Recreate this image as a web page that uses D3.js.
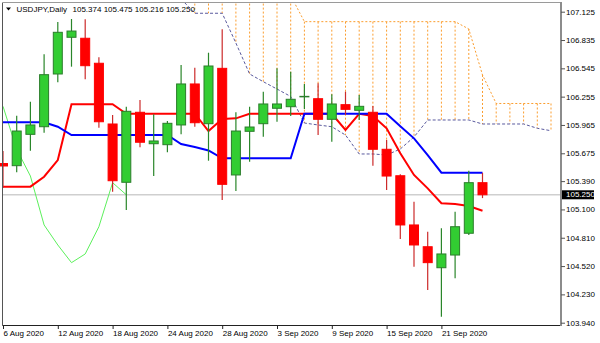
<!DOCTYPE html>
<html>
<head>
<meta charset="utf-8">
<script src="https://d3js.org/d3.v7.min.js"></script>
<style>
body { margin: 0; background: #fff; }
svg { display: block; font-family: "Liberation Sans", Arial, sans-serif; }
</style>
</head>
<body>
<svg id="drawing_region"></svg>
<script>
// USDJPY daily candles, 6 Aug 2020 .. 24 Sep 2020 (bar index 0..35)
const symbol = 'USDJPY,Daily';
const opens  = [105.570,105.548,105.869,105.947,106.487,106.863,106.853,106.597,105.975,105.378,
                106.095,105.773,105.763,105.965,106.385,105.978,106.545,105.453,105.900,105.978,
                106.136,106.152,106.253,106.234,106.023,106.173,106.115,106.095,105.716,105.445,
                104.941,104.718,104.503,104.633,104.856,105.374];
const highs  = [105.698,106.060,106.203,106.689,107.020,107.050,107.047,106.658,106.067,106.152,
                106.221,106.074,106.006,106.579,106.552,106.705,106.945,106.095,106.152,106.306,
                106.545,106.511,106.385,106.392,106.279,106.306,106.272,106.159,105.811,105.460,
                105.179,104.872,104.907,105.077,105.497,105.475];
const lows   = [105.320,105.480,105.701,105.886,106.402,106.562,106.433,105.937,105.282,105.094,
                105.736,105.442,105.685,105.869,105.947,105.599,105.197,105.289,105.589,105.845,
                105.998,106.057,106.129,105.862,105.794,106.067,106.016,105.548,105.299,104.797,
                104.514,104.275,104.001,104.395,104.838,105.216];
const closes = [105.545,105.903,105.965,106.480,106.914,106.927,106.572,105.998,105.394,106.105,
                105.788,105.801,105.982,106.385,105.988,106.569,105.357,105.903,105.944,106.180,
                106.180,106.228,106.258,106.023,106.180,106.125,106.156,105.716,105.442,104.941,
                104.736,104.555,104.644,104.923,105.374,105.250];

// Ichimoku lines
const tenkan = [105.333,105.333,105.333,105.435,105.606,106.177,106.177,106.177,106.177,106.080,
                106.080,106.080,106.080,106.080,106.080,105.903,106.026,106.033,106.080,106.080,
                106.080,106.080,106.080,106.080,106.080,105.914,106.080,106.057,105.931,105.675,
                105.453,105.316,105.163,105.156,105.135,105.087];
const kijun  = [105.992,105.992,105.992,105.992,105.947,105.862,105.862,105.862,105.862,105.862,
                105.862,105.862,105.862,105.770,105.739,105.704,105.624,105.624,105.624,105.624,
                105.624,105.624,106.080,106.080,106.080,106.080,106.080,106.080,106.080,105.951,
                105.828,105.657,105.476,105.476,105.476,105.476];
const chikou = [106.156,105.716,105.442,104.941,104.736,104.555,104.644,104.923,105.374,105.250];

// cloud, from bar 13 to bar 40 (shifted forward)
const spanStart = 13;
const spanUpper = [107.290,107.290,107.290,107.290,107.290,107.290,107.290,107.290,107.290,
                   107.023,107.023,107.023,107.023,107.023,107.023,107.023,107.023,107.023,107.023,107.023,107.023,
                   106.948,106.477,106.185,106.185,106.185,106.185,106.185];
const spanLower = [107.255,107.109,107.109,107.109,106.804,106.487,106.408,106.333,106.257,
                   105.985,105.965,105.947,105.862,105.668,105.668,105.657,105.719,105.842,106.016,106.016,106.016,
                   106.016,105.975,105.975,105.975,105.975,105.931,105.906];

const bidPrice = 105.250;
const yTicks = [107.125,106.835,106.545,106.255,105.965,105.675,105.390,105.100,104.810,104.520,104.230,103.940];
const xTickIdx = [0,4,8,12,16,20,24,28,32];
const xTickLabels = ['6 Aug 2020','12 Aug 2020','18 Aug 2020','24 Aug 2020','28 Aug 2020',
                     '3 Sep 2020','9 Sep 2020','15 Sep 2020','21 Sep 2020'];

class IchimokuChart {
    constructor( config ) {
        this.config = {
            parent: config.parent,
            width: config.width || 600,
            height: config.height || 343,
            plot: config.plot
        };
        this.init();
    }

    init() {
        let self = this;
        const p = self.config.plot;

        self.svg = d3.select( self.config.parent )
            .attr('width', self.config.width)
            .attr('height', self.config.height);

        self.svg.append('rect')
            .attr('width', self.config.width)
            .attr('height', self.config.height)
            .attr('fill', '#fff');

        self.svg.append('clipPath').attr('id', 'plotclip')
            .append('rect')
            .attr('x', 0).attr('y', p.top)
            .attr('width', p.right).attr('height', p.bottom - p.top);

        self.chart = self.svg.append('g').attr('clip-path', 'url(#plotclip)');

        self.xscale = d3.scaleLinear()
            .domain([0, 40])
            .range([3, 551]);

        self.yscale = d3.scaleLinear()
            .domain([103.940, 107.125])
            .range([322.7, 11.7]);
    }

    render() {
        let self = this;
        const p = self.config.plot;
        const x = self.xscale, y = self.yscale;

        // bid line
        self.chart.append('line')
            .attr('x1', p.left).attr('x2', p.right)
            .attr('y1', y(bidPrice)).attr('y2', y(bidPrice))
            .attr('stroke', '#cfcfcf').attr('stroke-width', 1.5);

        // cloud hatch
        const cloud = spanUpper.map( (u, k) => ({ i: spanStart + k, u: u, l: spanLower[k] }) );
        self.chart.selectAll('.hatch')
            .data(cloud)
            .enter()
            .append('line')
            .attr('x1', d => x(d.i)).attr('x2', d => x(d.i))
            .attr('y1', d => y(d.u)).attr('y2', d => y(d.l))
            .attr('stroke', '#fb9d2e')
            .attr('stroke-width', 1)
            .attr('stroke-dasharray', '2,2');

        const line = d3.line().x(d => x(d.i)).y(d => y(d.v));

        self.chart.append('path')
            .attr('d', line(cloud.map(d => ({ i: d.i, v: d.u }))))
            .attr('fill', 'none')
            .attr('stroke', '#fb9d2e')
            .attr('stroke-dasharray', '2,2');

        self.chart.append('path')
            .attr('d', line(cloud.map(d => ({ i: d.i, v: d.l }))))
            .attr('fill', 'none')
            .attr('stroke', '#5a5a9e')
            .attr('stroke-dasharray', '3,2');

        // chikou
        self.chart.append('path')
            .attr('d', line(chikou.map((v, i) => ({ i: i, v: v }))))
            .attr('fill', 'none')
            .attr('stroke', '#5cf05c')
            .attr('stroke-width', 1);

        // tenkan / kijun
        self.chart.append('path')
            .attr('d', line(tenkan.map((v, i) => ({ i: i, v: v }))))
            .attr('fill', 'none')
            .attr('stroke', '#ff0000')
            .attr('stroke-width', 2);

        self.chart.append('path')
            .attr('d', line(kijun.map((v, i) => ({ i: i, v: v }))))
            .attr('fill', 'none')
            .attr('stroke', '#0000ff')
            .attr('stroke-width', 2);

        // candles
        const bars = opens.map( (o, i) => ({ i: i, o: o, h: highs[i], l: lows[i], c: closes[i] }) );
        const up = d => d.c >= d.o;

        self.chart.selectAll('.wick')
            .data(bars)
            .enter()
            .append('line')
            .attr('x1', d => x(d.i)).attr('x2', d => x(d.i))
            .attr('y1', d => y(d.h)).attr('y2', d => y(d.l))
            .attr('stroke', d => up(d) ? '#2a862a' : '#cc2b2b')
            .attr('stroke-width', 1.2);

        self.chart.selectAll('.body')
            .data(bars)
            .enter()
            .append('rect')
            .attr('x', d => x(d.i) - 4.5)
            .attr('y', d => y(Math.max(d.o, d.c)))
            .attr('width', 9)
            .attr('height', d => Math.max(Math.abs(y(d.o) - y(d.c)), 0.5))
            .attr('fill', d => up(d) ? '#32cd32' : '#ff0000')
            .attr('stroke', d => up(d) ? '#2b7d2b' : '#ff0000')
            .attr('stroke-width', 1);

        // frame
        self.svg.append('line').attr('x1', p.left).attr('x2', p.right).attr('y1', 2.5).attr('y2', 2.5)
            .attr('stroke', '#9a9a9a');
        self.svg.append('line').attr('x1', 2.5).attr('x2', 2.5).attr('y1', 2.5).attr('y2', p.bottom + 0.5)
            .attr('stroke', '#555');
        self.svg.append('line').attr('x1', 2.5).attr('x2', p.right).attr('y1', p.bottom + 0.5).attr('y2', p.bottom + 0.5)
            .attr('stroke', '#222');
        self.svg.append('line').attr('x1', p.right).attr('x2', p.right).attr('y1', 2).attr('y2', p.bottom + 1)
            .attr('stroke', '#8c8c8c').attr('stroke-width', 2);

        // y axis
        const yaxis = d3.axisRight(y)
            .tickValues(yTicks)
            .tickFormat(d3.format('.3f'))
            .tickSize(4)
            .tickPadding(1);
        const yg = self.svg.append('g')
            .attr('transform', `translate(${p.right}, 0)`)
            .call(yaxis);
        yg.select('.domain').remove();
        yg.selectAll('line').attr('stroke', '#555');
        yg.selectAll('text').attr('font-size', 8).attr('fill', '#000')
            .attr('font-family', '"Liberation Sans", Arial, sans-serif');

        // bid label
        self.svg.append('rect')
            .attr('x', p.right + 1).attr('y', y(bidPrice) - 4.5)
            .attr('width', 32).attr('height', 9)
            .attr('fill', '#000');
        self.svg.append('text')
            .attr('x', p.right + 5).attr('y', y(bidPrice))
            .attr('dy', '0.32em')
            .attr('font-size', 8).attr('fill', '#fff')
            .text(d3.format('.3f')(bidPrice));

        // x axis
        const xaxis = d3.axisBottom(x)
            .tickValues(xTickIdx)
            .tickFormat((d, k) => xTickLabels[k])
            .tickSize(4)
            .tickPadding(1);
        const xg = self.svg.append('g')
            .attr('transform', `translate(0, ${p.bottom})`)
            .call(xaxis);
        xg.select('.domain').remove();
        xg.selectAll('line').attr('stroke', '#222');
        xg.selectAll('text').attr('font-size', 8).attr('fill', '#000')
            .attr('text-anchor', 'start')
            .attr('font-family', '"Liberation Sans", Arial, sans-serif');

        // header
        self.svg.append('path')
            .attr('d', 'M6,7.5 L11,7.5 L8.5,10.5 Z')
            .attr('fill', '#000');
        self.svg.append('text')
            .attr('x', 16.5).attr('y', 11.5)
            .attr('font-size', 8).attr('fill', '#000')
            .text(symbol);
        const last = opens.length - 1;
        self.svg.append('text')
            .attr('x', 72.5).attr('y', 11.5)
            .attr('font-size', 8).attr('fill', '#000')
            .attr('xml:space', 'preserve')
            .text([opens[last], highs[last], lows[last], closes[last]].map(d3.format('.3f')).join(' '));
    }
}

const chart = new IchimokuChart({
    parent: '#drawing_region',
    width: 600,
    height: 343,
    plot: { left: 3, top: 3, right: 561, bottom: 325 }
});
chart.render();
</script>
</body>
</html>
